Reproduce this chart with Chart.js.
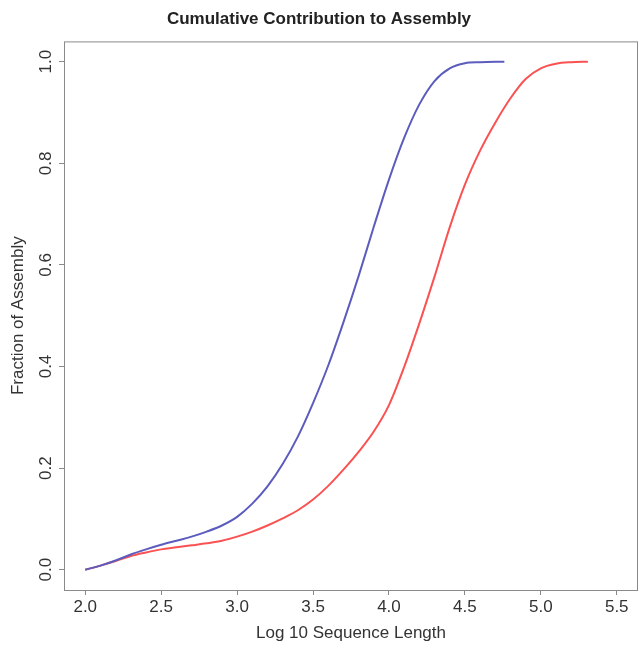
<!DOCTYPE html>
<html lang="en">
<head>
    <meta charset="UTF-8">
    <title>Cumulative Contribution to Assembly</title>
    <script src="https://cdn.jsdelivr.net/npm/chart.js"></script>
    <style>
        html, body { margin: 0; padding: 0; background: #fff; }
        #wrap { width: 642px; height: 648px; }
    </style>
</head>
<body>
    <div id="wrap"><canvas id="assemblyChart"></canvas></div>

    <script>
        // log10 sequence length vs cumulative fraction
        const blueLen  = [2.0, 2.1, 2.2, 2.3, 2.4, 2.5, 2.6, 2.7, 2.8, 2.9, 3.0, 3.1, 3.2, 3.3, 3.4, 3.5, 3.6, 3.7, 3.8, 3.9, 4.0, 4.1, 4.2, 4.3, 4.4, 4.5, 4.6, 4.76];
        const blueFrac = [0, 0.008, 0.018, 0.030, 0.040, 0.049, 0.057, 0.065, 0.075, 0.087, 0.104, 0.130, 0.164, 0.208, 0.262, 0.328, 0.402, 0.487, 0.578, 0.675, 0.768, 0.850, 0.916, 0.962, 0.987, 0.997, 0.999, 1.0];

        const redLen  = [2.0, 2.1, 2.2, 2.3, 2.4, 2.5, 2.6, 2.7, 2.8, 2.9, 3.0, 3.1, 3.2, 3.3, 3.4, 3.5, 3.6, 3.7, 3.8, 3.9, 4.0, 4.1, 4.2, 4.3, 4.4, 4.5, 4.6, 4.7, 4.8, 4.9, 5.0, 5.1, 5.2, 5.31];
        const redFrac = [0, 0.008, 0.017, 0.027, 0.034, 0.040, 0.044, 0.048, 0.052, 0.057, 0.065, 0.075, 0.087, 0.101, 0.117, 0.138, 0.165, 0.197, 0.232, 0.272, 0.324, 0.399, 0.485, 0.577, 0.674, 0.758, 0.825, 0.880, 0.928, 0.966, 0.987, 0.996, 0.999, 1.0];

        const xTicks = [2.0, 2.5, 3.0, 3.5, 4.0, 4.5, 5.0, 5.5];
        const yTicks = [0.0, 0.2, 0.4, 0.6, 0.8, 1.0];

        const toPoints = (xs, ys) => xs.map((x, i) => ({ x: x, y: ys[i] }));

        const textColor = '#333';
        const boxColor = '#8a8a8a';
        const fontFamily = "'Liberation Sans', Arial, sans-serif";
        const font = { family: fontFamily, size: 17 };

        // R-style box round the plot region
        const boxPlugin = {
            id: 'plotBox',
            afterDraw(chart) {
                const a = chart.chartArea;
                const c = chart.ctx;
                c.save();
                c.strokeStyle = boxColor;
                c.lineWidth = 1;
                c.strokeRect(a.left + 0.5, a.top + 0.5, a.right - a.left - 1, a.bottom - a.top);
                c.restore();
            }
        };

        // y tick labels read bottom-to-top like R's default
        const yLabelPlugin = {
            id: 'yLabels',
            afterDraw(chart) {
                const s = chart.scales.y;
                const c = chart.ctx;
                c.save();
                c.fillStyle = textColor;
                c.font = '17px ' + fontFamily;
                c.textAlign = 'center';
                c.textBaseline = 'middle';
                s.ticks.forEach(t => {
                    c.save();
                    c.translate(s.right - 18, s.getPixelForValue(t.value));
                    c.rotate(-Math.PI / 2);
                    c.fillText(t.value.toFixed(1), 0, 0);
                    c.restore();
                });
                c.restore();
            }
        };

        const ctx = document.getElementById('assemblyChart').getContext('2d');
        const assemblyChart = new Chart(ctx, {
            type: 'line',
            data: {
                datasets: [{
                    label: 'blue',
                    data: toPoints(blueLen, blueFrac),
                    borderColor: 'rgb(92, 92, 190)',
                    borderWidth: 2,
                    pointRadius: 0,
                    cubicInterpolationMode: 'monotone',
                    fill: false
                }, {
                    label: 'red',
                    data: toPoints(redLen, redFrac),
                    borderColor: 'rgb(250, 82, 82)',
                    borderWidth: 2,
                    pointRadius: 0,
                    cubicInterpolationMode: 'monotone',
                    fill: false
                }]
            },
            options: {
                responsive: true,
                maintainAspectRatio: false,
                animation: false,
                layout: { padding: { left: 0, right: 4, top: 0, bottom: 0 } },
                scales: {
                    x: {
                        type: 'linear',
                        min: 1.86,
                        max: 5.64,
                        afterBuildTicks: (scale) => { scale.ticks = xTicks.map(v => ({ value: v })); },
                        afterFit: (scale) => { scale.height = 58; },
                        grid: { drawOnChartArea: false, tickLength: 5, color: boxColor },
                        border: { display: false },
                        ticks: {
                            color: textColor,
                            font: font,
                            padding: 2,
                            maxRotation: 0,
                            autoSkip: false,
                            callback: (v) => Number(v).toFixed(1)
                        },
                        title: {
                            display: true,
                            text: 'Log 10 Sequence Length',
                            color: textColor,
                            font: font,
                            padding: { top: 0, bottom: 4 }
                        }
                    },
                    y: {
                        min: -0.04,
                        max: 1.04,
                        afterBuildTicks: (scale) => { scale.ticks = yTicks.map(v => ({ value: v })); },
                        afterFit: (scale) => { scale.width = 64; },
                        grid: { drawOnChartArea: false, tickLength: 5, color: boxColor },
                        border: { display: false },
                        ticks: {
                            color: 'rgba(0,0,0,0)',
                            font: font,
                            autoSkip: false,
                            callback: (v) => Number(v).toFixed(1)
                        },
                        title: {
                            display: true,
                            text: 'Fraction of Assembly',
                            color: textColor,
                            font: font,
                            padding: { top: 8, bottom: 0 }
                        }
                    }
                },
                plugins: {
                    legend: { display: false },
                    tooltip: { enabled: false },
                    title: {
                        display: true,
                        text: 'Cumulative Contribution to Assembly',
                        color: '#222',
                        font: { family: fontFamily, size: 17, weight: 'bold' },
                        padding: { top: 9, bottom: 12 }
                    }
                }
            },
            plugins: [boxPlugin, yLabelPlugin]
        });
    </script>
</body>
</html>
